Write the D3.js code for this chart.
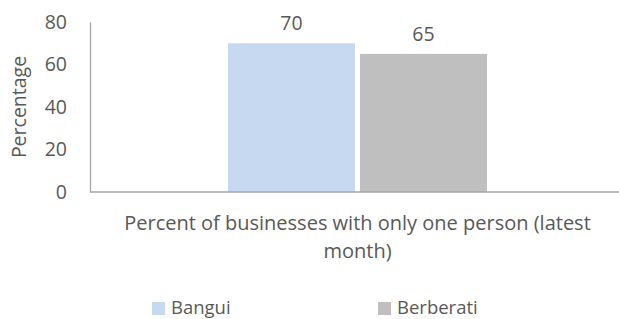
<!DOCTYPE html>
<html>
<head>
<meta charset="utf-8">
<script src="https://cdn.jsdelivr.net/npm/d3@7"></script>
<style>
  body { margin: 0; background: #fff; }
  svg text { font-family: "Open Sans", sans-serif; fill: #595959; }
</style>
</head>
<body>
<svg id="chart" width="619" height="319"></svg>
<script>
const categories = ["Percent of businesses with only one person (latest month)"];
const categoryLines = ["Percent of businesses with only one person (latest", "month)"];
const seriesNames = ["Bangui", "Berberati"];
const seriesValues = [[70], [65]];
const yTicks = [0, 20, 40, 60, 80];
const colors = ["#c6d9f0", "#bfbfbf"];

const fs = 19.5;
const svg = d3.select("#chart");
const margin = { left: 90, right: -6, top: 22, bottom: 127 };
const width = 619 - margin.left - margin.right;
const height = 319 - margin.top - margin.bottom;

const g = svg.append("g").attr("transform", `translate(${margin.left},${margin.top})`);

const x0 = d3.scaleBand().domain(categories).range([0, width]).paddingInner(0).paddingOuter(0.533);
const x1 = d3.scaleBand().domain(seriesNames).range([0, x0.bandwidth()]).paddingInner(0.038);
const y = d3.scaleLinear().domain([0, 80]).range([height, 0]);

// y axis
const yAxis = d3.axisLeft(y).tickValues(yTicks).tickSize(0).tickPadding(23);
g.append("g")
  .attr("class", "axis axis-y")
  .call(yAxis)
  .call(s => s.attr("font-size", fs))
  .call(s => s.select(".domain").attr("stroke", "#a6a6a6").attr("stroke-width", 1.3))
  .call(s => s.selectAll(".tick text").style("fill", "#595959"));

// bars
const groups = g.selectAll(".cat")
  .data(categories)
  .join("g")
  .attr("transform", d => `translate(${x0(d)},0)`);

groups.selectAll("rect")
  .data((d, ci) => seriesNames.map((s, si) => ({ s, v: seriesValues[si][ci], c: colors[si] })))
  .join("rect")
  .attr("x", d => x1(d.s))
  .attr("width", x1.bandwidth())
  .attr("y", d => y(d.v))
  .attr("height", d => height - y(d.v))
  .attr("fill", d => d.c);

groups.selectAll(".val")
  .data((d, ci) => seriesNames.map((s, si) => ({ s, v: seriesValues[si][ci] })))
  .join("text")
  .attr("class", "val")
  .attr("x", d => x1(d.s) + x1.bandwidth() / 2)
  .attr("y", d => y(d.v) - 13)
  .attr("text-anchor", "middle")
  .attr("font-size", fs)
  .text(d => d.v);

// x axis line
g.append("line")
  .attr("x1", 0).attr("x2", width)
  .attr("y1", height).attr("y2", height)
  .attr("stroke", "#a6a6a6").attr("stroke-width", 1.3);

// category label
const cx = x0(categories[0]) + x0.bandwidth() / 2;
g.append("text")
  .attr("text-anchor", "middle")
  .attr("font-size", 20)
  .selectAll("tspan")
  .data(categoryLines)
  .join("tspan")
  .attr("x", cx)
  .attr("y", (d, i) => height + 37.5 + i * 28.5)
  .text(d => d);

// y title
svg.append("text")
  .attr("transform", `translate(26,${margin.top + height / 2}) rotate(-90)`)
  .attr("text-anchor", "middle")
  .attr("font-size", fs)
  .text("Percentage");

// legend
const legendX = [152, 378];
const legend = svg.selectAll(".legend")
  .data(seriesNames)
  .join("g")
  .attr("class", "legend")
  .attr("transform", (d, i) => `translate(${legendX[i]},301)`);
legend.append("rect").attr("y", 1).attr("width", 13).attr("height", 13).attr("fill", (d, i) => colors[i]);
legend.append("text").attr("x", 19).attr("y", 13).attr("font-size", 18.5).text(d => d);
</script>
</body>
</html>
